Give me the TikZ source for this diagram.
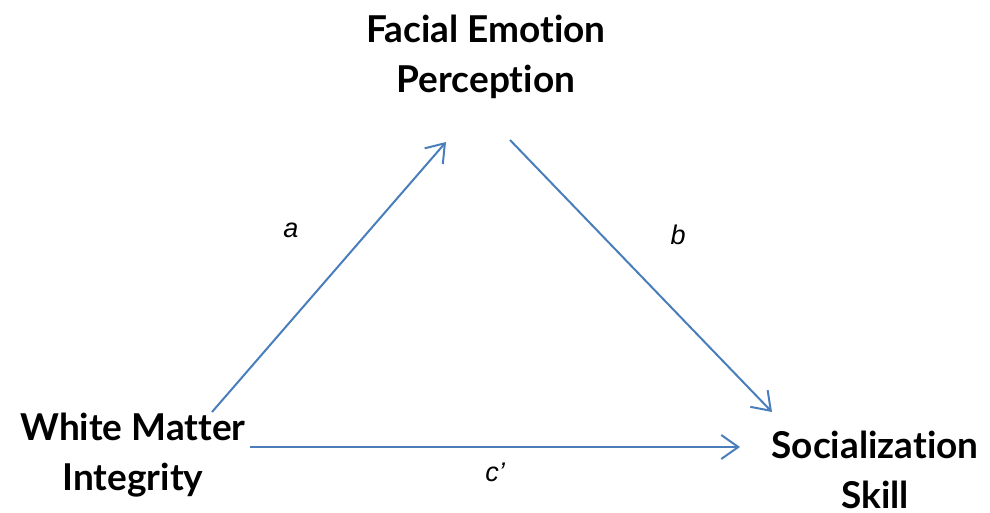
\documentclass[tikz,border=0pt]{standalone}
\usepackage{fontspec}
\setmainfont[Ligatures=NoCommon]{Lato}
\newfontfamily\labelfont{Liberation Sans}
\usetikzlibrary{arrows.meta}
\definecolor{arrowblue}{HTML}{4A7EBB}
\begin{document}
\begin{tikzpicture}[x=1pt,y=-1pt,
  var/.style={font=\fontsize{37}{50}\selectfont\bfseries, align=center, inner sep=0pt, text=black},
  lab/.style={font=\fontsize{27}{30}\labelfont\itshape, inner sep=0pt},
  path/.style={draw=arrowblue, line width=2pt, -{Straight Barb[length=17pt,width=24pt,line width=2pt]}}
]
\useasboundingbox (0,0) rectangle (990,512);
\node[var] (fep) at (486,57) {Facial Emotion\\Perception};
\node[var] (wmi) at (133,455) {White Matter\\Integrity};
\node[var] (ss) at (875,470) {Socialization\\Skill};
\coordinate (a0) at (212,412);
\coordinate (a1) at (446,142);
\coordinate (b0) at (510,140);
\coordinate (b1) at (772,412);
\coordinate (c0) at (250,447);
\coordinate (c1) at (740,447);
\draw[path] (a0) -- (a1);
\draw[path] (b0) -- (b1);
\draw[path] (c0) -- (c1);
\node[lab] (la) at (291,230) {a};
\node[lab] (lb) at (678,235) {b};
\node[lab] (lc) at (495,472) {c’};
\end{tikzpicture}
\end{document}
